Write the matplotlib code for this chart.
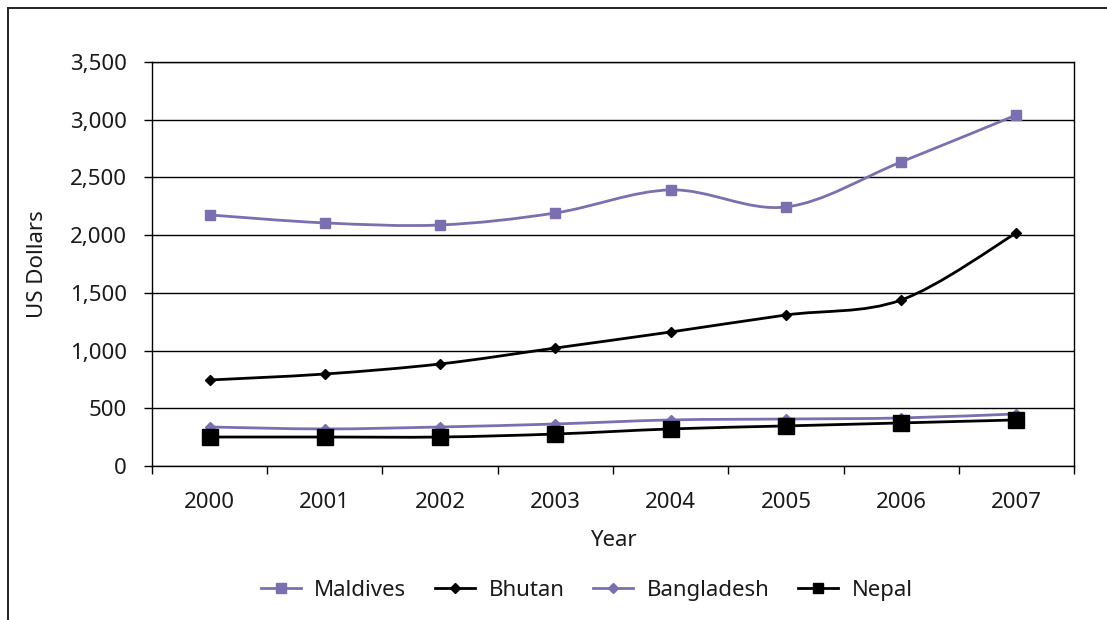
import matplotlib.pyplot as plt
import numpy as np
from matplotlib.path import Path
from matplotlib.patches import PathPatch, Rectangle
from matplotlib.lines import Line2D
from matplotlib.ticker import FuncFormatter, FixedLocator

plt.rcParams['font.family'] = ['Noto Sans', 'DejaVu Sans']

years = ['2000', '2001', '2002', '2003', '2004', '2005', '2006', '2007']
maldives = [2175, 2106, 2088, 2192, 2392, 2244, 2634, 3041]
bhutan = [745, 797, 884, 1022, 1161, 1308, 1438, 2019]
bangladesh = [338, 321, 338, 364, 399, 407, 416, 451]
nepal = [251, 251, 251, 277, 321, 347, 373, 399]

purple = '#7b6faf'
text_color = '#1a1a1a'


def smooth_path(xs, ys):
    # cubic Bezier through every point, Catmull-Rom style control points
    pts = np.column_stack([xs, ys]).astype(float)
    verts = [pts[0]]
    codes = [Path.MOVETO]
    n = len(pts)
    for i in range(n - 1):
        p0 = pts[max(i - 1, 0)]
        p1 = pts[i]
        p2 = pts[i + 1]
        p3 = pts[min(i + 2, n - 1)]
        c1 = p1 + (p2 - p0) / 6.0
        c2 = p2 - (p3 - p1) / 6.0
        verts += [c1, c2, p2]
        codes += [Path.CURVE4] * 3
    return Path(verts, codes)


fig = plt.figure(figsize=(11.07, 6.2), dpi=100)
ax = fig.add_axes([0.1373, 0.2484, 0.9702 - 0.1373, 0.9 - 0.2484])

# outer chart border (only left and top edges fall inside the image)
fig.patches.append(Rectangle((8 / 1107, -0.2), 1.2, 0.2 + (620 - 8) / 620,
                             transform=fig.transFigure, fill=False,
                             edgecolor='#222222', linewidth=1.4))

x = np.arange(len(years))
series = [
    ('Maldives', maldives, purple, 's', 7),
    ('Bhutan', bhutan, 'black', 'D', 5),
    ('Bangladesh', bangladesh, purple, 'D', 5),
    ('Nepal', nepal, 'black', 's', 12),
]

handles = []
for name, vals, color, marker, ms in series:
    ax.add_patch(PathPatch(smooth_path(x, vals), facecolor='none',
                           edgecolor=color, linewidth=2.0, zorder=3))
    ax.plot(x, vals, linestyle='none', marker=marker, markersize=ms,
            color=color, zorder=4)
    handles.append(Line2D([], [], color=color, linewidth=2.0, marker=marker,
                          markersize=min(ms, 7)))

ax.set_xlim(-0.5, len(years) - 0.5)
ax.set_ylim(0, 3500)
ax.set_yticks(np.arange(0, 3501, 500))
ax.yaxis.set_major_formatter(FuncFormatter(lambda v, p: f'{int(v):,}'))
ax.grid(axis='y', color='black', linewidth=1)
ax.set_axisbelow(True)

ax.xaxis.set_major_locator(FixedLocator(np.arange(-0.5, len(years), 1.0)))
ax.xaxis.set_minor_locator(FixedLocator(x))
ax.set_xticklabels([])
ax.set_xticklabels(years, minor=True)
ax.tick_params(axis='x', which='major', direction='out', length=6, width=1)
ax.tick_params(axis='x', which='minor', length=0, pad=19, labelsize=16,
               labelcolor=text_color)
ax.tick_params(axis='y', direction='out', length=6, width=1, labelsize=16,
               pad=12, labelcolor=text_color)

for s in ax.spines.values():
    s.set_color('black')
    s.set_linewidth(1)

ax.set_xlabel('Year', fontsize=16, labelpad=12, color=text_color)
ax.set_ylabel('US Dollars', fontsize=16, labelpad=16, color=text_color)

fig.legend(handles, [s[0] for s in series], loc='center',
           bbox_to_anchor=(0.53, 0.048), ncol=4, frameon=False,
           fontsize=16, handlelength=1.8, columnspacing=1.3, handletextpad=0.6,
           labelcolor=text_color)

fig.savefig('out.png', dpi=100)
